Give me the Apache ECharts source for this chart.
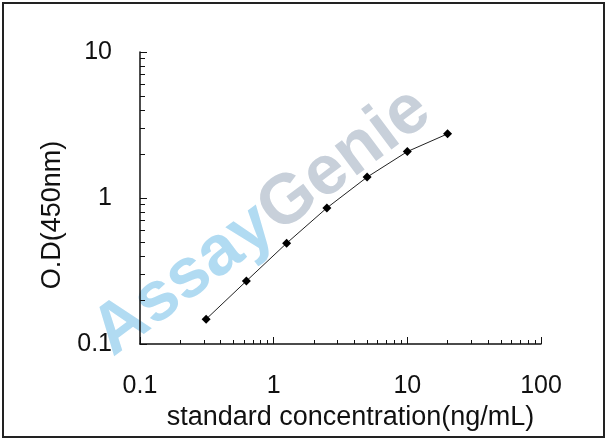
<!DOCTYPE html>
<html>
<head>
<meta charset="utf-8">
<script src="https://cdn.jsdelivr.net/npm/echarts@6/dist/echarts.min.js"></script>
<style>
  html, body { margin: 0; padding: 0; background: #fff; }
  #chart { width: 608px; height: 441px; }
</style>
</head>
<body>
<div id="chart"></div>
<script>
// standard curve
const concentrations = [0.3125, 0.625, 1.25, 2.5, 5, 10, 20];
const odValues = [0.148, 0.27, 0.49, 0.855, 1.39, 2.08, 2.75];

// tick positions on both log axes
const xMajorTicks = [0.1, 1, 10, 100];
const xMinorTicks = [0.2, 0.3, 0.4, 0.5, 0.6, 0.7, 0.8, 0.9,
  2, 3, 4, 5, 6, 7, 8, 9, 20, 30, 40, 50, 60, 70, 80, 90];
const yMajorTicks = [0.1, 1, 10];
const yMinorTicks = [0.2, 0.3, 0.4, 0.5, 0.6, 0.7, 0.8, 0.9,
  2, 3, 4, 5, 6, 7, 8, 9];

const font = 'Liberation Sans, Arial, sans-serif';
const myChart = echarts.init(document.getElementById('chart'), null, { renderer: 'canvas' });

const logAxis = function (extra) {
  return Object.assign({
    type: 'log',
    logBase: 10,
    splitLine: { show: false },
    minorTick: { show: false },
    minorSplitLine: { show: false }
  }, extra);
};

myChart.setOption({
  animation: false,
  backgroundColor: '#fff',
  grid: { left: 140, right: 67, top: 52, bottom: 97, containLabel: false },
  xAxis: [
    logAxis({
      min: 0.1, max: 100,
      name: 'standard concentration(ng/mL)',
      nameLocation: 'middle',
      nameGap: 56,
      nameTextStyle: { fontFamily: font, fontSize: 27, color: '#111', padding: [0, 0, 0, 20] },
      axisLine: { show: true, lineStyle: { color: '#111', width: 1.5 } },
      axisTick: { show: true, inside: true, length: 7, customValues: xMajorTicks, lineStyle: { color: '#111', width: 1 } },
      axisLabel: { customValues: xMajorTicks, margin: 30, fontFamily: font, fontSize: 25, color: '#111',
        formatter: v => String(v) }
    }),
    logAxis({
      min: 0.1, max: 100,
      position: 'bottom',
      axisLine: { show: false },
      axisTick: { show: true, inside: true, length: 4, customValues: xMinorTicks, lineStyle: { color: '#111', width: 1 } },
      axisLabel: { show: false }
    })
  ],
  yAxis: [
    logAxis({
      min: 0.1, max: 10,
      name: 'O.D(450nm)',
      nameLocation: 'middle',
      nameGap: 66,
      nameTextStyle: { fontFamily: font, fontSize: 27, color: '#111', padding: [0, 34, 0, 0] },
      axisLine: { show: true, lineStyle: { color: '#111', width: 1.5 } },
      axisTick: { show: true, inside: true, length: 7, customValues: yMajorTicks, lineStyle: { color: '#111', width: 1 } },
      axisLabel: { customValues: yMajorTicks, margin: 28, fontFamily: font, fontSize: 25, color: '#111',
        formatter: v => String(v) }
    }),
    logAxis({
      min: 0.1, max: 10,
      position: 'left',
      axisLine: { show: false },
      axisTick: { show: true, inside: true, length: 5, customValues: yMinorTicks, lineStyle: { color: '#111', width: 1 } },
      axisLabel: { show: false }
    })
  ],
  graphic: [
    {
      type: 'rect',
      shape: { x: 3, y: 3, width: 601, height: 434 },
      style: { fill: 'none', stroke: '#222', lineWidth: 2 },
      z: 0
    },
    {
      type: 'text',
      x: 262, y: 222,
      rotation: 36.7 * Math.PI / 180,
      z: 0,
      style: {
        text: '{a|Assay}{g|Genie}',
        align: 'center',
        verticalAlign: 'middle',
        rich: {
          a: { fontFamily: font, fontWeight: 'bold', fontSize: 70, fill: '#b1dbf2' },
          g: { fontFamily: font, fontWeight: 'bold', fontSize: 70, fill: '#c8d0da' }
        }
      }
    }
  ],
  series: [{
    type: 'line',
    data: concentrations.map((c, i) => [c, odValues[i]]),
    symbol: 'diamond',
    symbolSize: 9,
    z: 5,
    lineStyle: { color: '#222', width: 1 },
    itemStyle: { color: '#000' }
  }]
});
</script>
</body>
</html>
